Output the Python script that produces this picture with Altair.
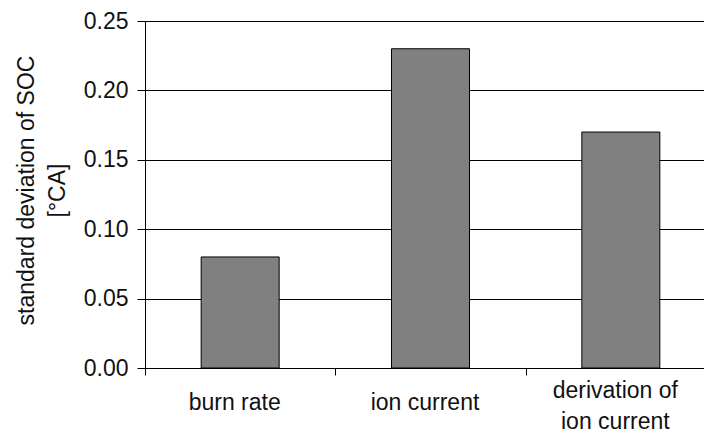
import altair as alt
import pandas as pd

# Standard deviation of start of combustion (SOC) per detection method
methods = ["burn rate", "ion current", "derivation of\nion current"]
std_soc = [0.08, 0.23, 0.17]
y_ticks = [0.0, 0.05, 0.10, 0.15, 0.20, 0.25]

df = pd.DataFrame({"method": methods, "std": std_soc})

FONT = "Liberation Sans"
INK = "#111111"

# the two-line category label is lifted so its block stays centred under the axis
two_line = methods[2].replace("\n", "\\n")
label_baseline = {
    "condition": {"test": f"datum.value === '{two_line}'", "value": "bottom"},
    "value": "middle",
}

bars = alt.Chart(df).mark_bar(
    color="#808080", stroke="#000000", strokeWidth=1, size=78
).encode(
    x=alt.X(
        "method:N",
        sort=methods,
        scale=alt.Scale(range=[0, 571], paddingInner=0, paddingOuter=0),
        axis=alt.Axis(
            title=None,
            labelAngle=0,
            tickBand="extent",
            tickSize=7,
            tickColor="#000000",
            domainColor="#000000",
            labelExpr="split(datum.label, '\\n')",
            labelBaseline=label_baseline,
            labelPadding=27,
            labelOffset=-6,
            labelLineHeight=31,
            labelFont=FONT,
            labelFontSize=23,
            labelColor=INK,
            labelOverlap=False,
            labelFlush=False,
            labelLimit=0,
            grid=False,
        ),
    ),
    y=alt.Y(
        "std:Q",
        scale=alt.Scale(domain=[0, 0.25], nice=False),
        axis=alt.Axis(
            title=["standard deviation of SOC", "[°CA]"],
            values=y_ticks,
            format=".2f",
            grid=True,
            gridColor="#000000",
            gridWidth=1,
            domainColor="#000000",
            tickColor="#000000",
            tickSize=8,
            labelPadding=9,
            labelFont=FONT,
            labelFontSize=23,
            labelColor=INK,
            titleFont=FONT,
            titleFontSize=23,
            titleFontWeight="normal",
            titleColor=INK,
            titleAngle=270,
            titleAlign="center",
            titleBaseline="middle",
            titleLineHeight=31,
            titleX=-119,
            titleY=169,
        ),
    ),
)

chart = bars.properties(
    width=559,
    height=347,
    autosize=alt.AutoSizeParams(type="none"),
    padding={"left": 145, "top": 21, "right": 0, "bottom": 68},
    background="#ffffff",
).configure_view(stroke=None)

chart.save("out.html", embed_options={"renderer": "svg", "actions": False})
